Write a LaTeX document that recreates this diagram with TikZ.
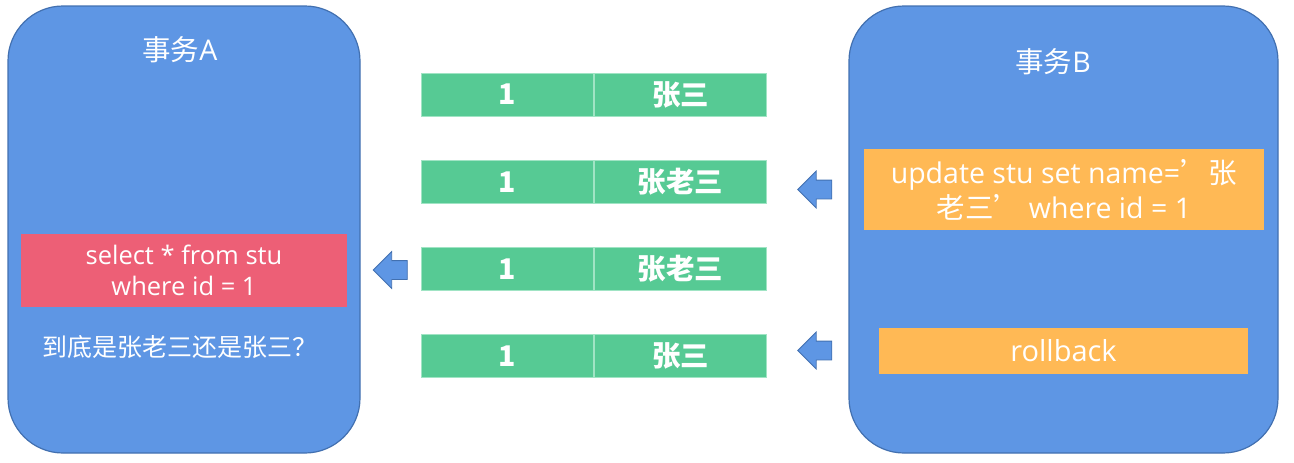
\documentclass[tikz,border=0pt]{standalone}
\usepackage{fontspec}
\setmainfont{Noto Sans CJK SC}
\newfontfamily\latinfont{Open Sans}
\usetikzlibrary{shapes.arrows}
\definecolor{trnblue}{RGB}{94,150,228}
\definecolor{trnedge}{RGB}{66,112,176}
\definecolor{selred}{RGB}{237,95,118}
\definecolor{updorange}{RGB}{255,185,85}
\definecolor{rowgreen}{RGB}{86,202,148}
\definecolor{rowedge}{RGB}{160,228,196}
\tikzset{
  trnbox/.style={draw=trnedge,fill=trnblue,line width=1.2pt,rounded corners=55pt,
    minimum width=#1,minimum height=447pt,inner sep=0pt},
  sqlbox/.style={fill=#1,text=white,align=center,inner sep=0pt,
    font=\fontsize{25.5}{31}\selectfont},
  cell/.style={fill=rowgreen,draw=rowedge,line width=0.8pt,text=white,
    minimum width=172pt,minimum height=43pt,inner sep=0pt,
    font=\fontsize{28.5}{30}\selectfont\bfseries},
  blockarrow/.style={single arrow,shape border rotate=180,draw=trnedge,fill=trnblue,
    line width=0.8pt,inner sep=9pt,minimum height=34pt,single arrow head extend=9pt},
  label/.style={text=white,inner sep=0pt,font=\fontsize{25}{30}\selectfont}
}
\begin{document}
\begin{tikzpicture}[x=1pt,y=-1pt]
	\useasboundingbox (0,0) rectangle (1294,463);
	%transactions
	\node[trnbox=352pt] (trnA) at (184,229.5) {};
	\node[trnbox=429pt] (trnB) at (1063.5,229.5) {};
	\node[label,font=\fontsize{28.5}{30}\selectfont] (titleA) at (180,50) {事务{\latinfont A}};
	\node[label,font=\fontsize{28.5}{30}\selectfont] (titleB) at (1053,62) {事务{\latinfont B}};

	%statements
	\node[sqlbox=selred,minimum width=326pt,minimum height=73pt] (select) at (184,270.5)
	  {\latinfont select * from stu\\\latinfont where id = 1};
	\node[label] (question) at (180,347) {到底是张老三还是张三？};
	\node[sqlbox=updorange,minimum width=400pt,minimum height=81pt,
	  font=\fontsize{28.5}{35}\selectfont] (update) at (1064,189.5)
	  {{\latinfont update stu set name=}’张\\老三’ {\latinfont where id = 1}};
	\node[sqlbox=updorange,minimum width=369pt,minimum height=46pt,
	  font=\fontsize{29}{31}\selectfont] (rollback) at (1063.5,351)
	  {\latinfont rollback};

	%rows
	\foreach \i/\name/\y in {1/张三/94.5,2/张老三/182,3/张老三/269,4/张三/356}{
	  \node[cell] (id\i) at (507,\y) {1};
	  \node[cell] (name\i) at (680.5,\y) {\name};
	}

	%arrows
	\node[blockarrow] (arrUpdate) at (819.5,189.5) {};
	\node[blockarrow] (arrSelect) at (395,270) {};
	\node[blockarrow] (arrRollback) at (819.5,350.5) {};
\end{tikzpicture}
\end{document}
